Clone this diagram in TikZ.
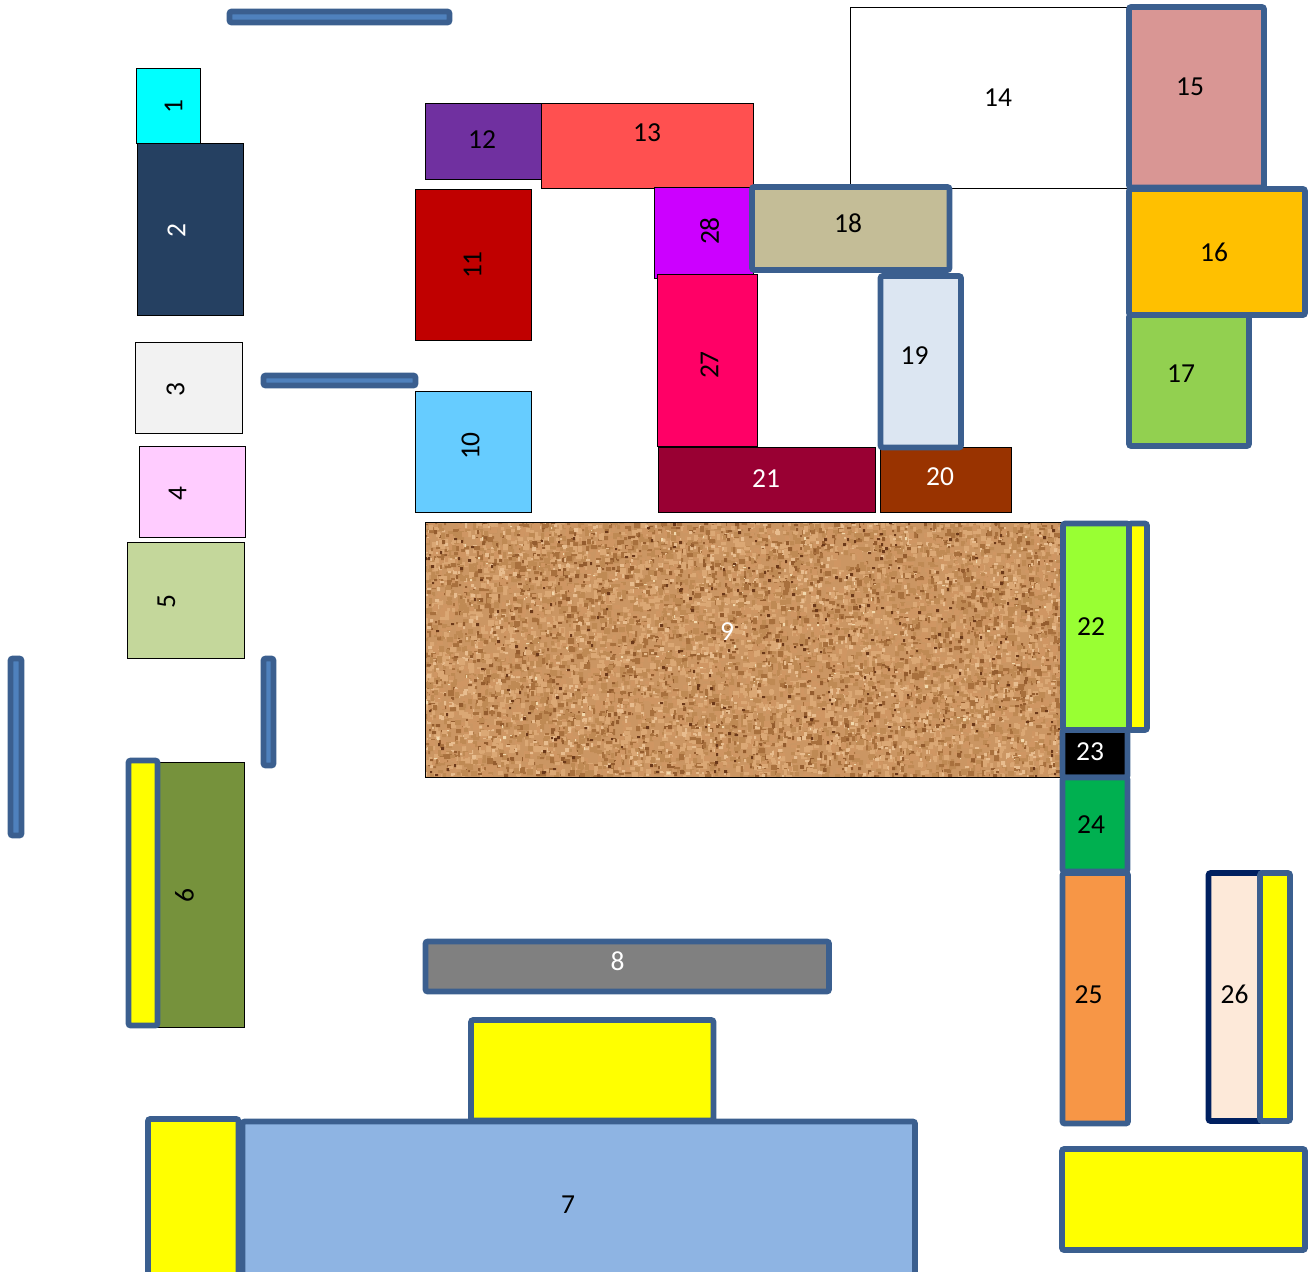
\documentclass[tikz,border=0pt]{standalone}
\usepackage{fontspec}
\setmainfont{Carlito}
\definecolor{edgeblue}{HTML}{3B5F8F}
\definecolor{barblue}{HTML}{4F81BD}
\definecolor{pureyellow}{rgb}{1,1,0}
\definecolor{navyedge}{HTML}{002060}
\definecolor{corkbase}{HTML}{CB9663}
\tikzset{
  plainbox/.style={draw=black,line width=0.75pt,inner sep=0pt,outer sep=0pt},
  heavybox/.style={draw=edgeblue,line width=4.2pt,rounded corners=1.5pt,inner sep=0pt,outer sep=0pt},
  barbox/.style={draw=edgeblue,fill=barblue,line width=4.2pt,rounded corners=1.5pt,inner sep=0pt,outer sep=0pt},
  navybox/.style={draw=navyedge,line width=4.2pt,rounded corners=1.5pt,inner sep=0pt,outer sep=0pt},
  lab/.style={font=\fontsize{20.6pt}{24pt}\selectfont,inner sep=0pt,text=black},
  wlab/.style={lab,text=white},
  rlab/.style={lab,rotate=90},
  rwlab/.style={lab,rotate=90,text=white}
}
% \bx[style]{name}{x0}{y0}{x1}{y1}
\newcommand{\bx}[6][plainbox]{%
  \pgfmathsetmacro{\bxw}{(#5-#3)*0.75}%
  \pgfmathsetmacro{\bxh}{(#6-#4)*0.75}%
  \node[#1,minimum width=\bxw pt,minimum height=\bxh pt] (#2) at ({(#3+#5)/2-0.5},{(#4+#6)/2-0.5}) {};%
}
% compact batches of small rectangles for the cork texture
\makeatletter
\newcount\corkn
\newcommand{\corklayer}[4]{%
  \corkn=#4\relax
  \gdef\corkbuf{}%
  \loop\ifnum\corkn>0
    \pgfmathrandominteger{\crx}{420}{1060}%
    \pgfmathrandominteger{\cry}{518}{775}%
    \pgfmathrandominteger{\crw}{#2}{#3}%
    \pgfmathrandominteger{\crh}{#2}{#3}%
    \xdef\corkbuf{\corkbuf\crx\space\cry\space\crw\space\crh\space re }%
    \advance\corkn by -1
  \repeat
  \pgfsys@invoke{q 0.7472 0 0 -0.7472 0 0 cm #1 rg \corkbuf f Q}%
}
\makeatother
\begin{document}
\begin{tikzpicture}[x=0.75pt,y=-0.75pt]
\useasboundingbox (0,0) rectangle (1308,1271);
\clip (0,0) rectangle (1308,1271);
% blue bars
\bx[barbox]{barA}{230}{12}{450}{23}
\bx[barbox]{barB}{264}{376}{416}{386}
\bx[barbox]{barC}{11}{659}{22}{836}
\bx[barbox]{barD}{264}{659}{274}{766}
% left column
\bx[plainbox,fill={rgb,255:red,0;green,255;blue,255}]{n1}{136.5}{68.5}{200.5}{143.5}
\bx[plainbox,fill={rgb,255:red,37;green,64;blue,97}]{n2}{138}{143.5}{244}{315.5}
\bx[plainbox,fill={rgb,255:red,242;green,242;blue,242}]{n3}{135.5}{342.5}{242.5}{434}
\bx[plainbox,fill={rgb,255:red,255;green,204;blue,255}]{n4}{139.5}{446.5}{245.5}{538}
\bx[plainbox,fill={rgb,255:red,196;green,215;blue,155}]{n5}{127.5}{542.5}{245}{658.5}
\bx[plainbox,fill={rgb,255:red,118;green,146;blue,60}]{n6}{150}{762.5}{245}{1027.5}
\bx[heavybox,fill=pureyellow]{y6}{129}{761}{158}{1026}
% bottom
\bx[heavybox,fill=pureyellow]{y7t}{471.5}{1020.5}{714}{1121}
\bx[heavybox,fill={rgb,255:red,142;green,180;blue,227}]{n7}{243}{1122}{915.5}{1290}
\bx[heavybox,fill=pureyellow]{y7l}{148.5}{1119.5}{239}{1290}
\bx[heavybox,fill={rgb,255:red,128;green,128;blue,128}]{n8}{426}{942}{829.5}{992}
% cork
\begin{scope}
\clip (425,522) rectangle (1061.5,777);
\fill[corkbase] (425,522) rectangle (1062,777);
\pgfmathsetseed{4242}
\foreach \cyc in {1,...,22}{
  \corklayer{0.75 0.54 0.33}{3}{6}{110}
  \corklayer{0.86 0.66 0.46}{3}{6}{110}
  \corklayer{0.66 0.44 0.24}{2}{6}{70}
  \corklayer{0.81 0.59 0.39}{3}{6}{110}
  \corklayer{0.91 0.74 0.56}{2}{4}{60}
  \corklayer{0.58 0.36 0.18}{2}{4}{45}
}
\corklayer{0.42 0.22 0.10}{2}{3}{260}
\corklayer{0.95 0.85 0.68}{1}{3}{120}
\end{scope}
\bx[plainbox]{n9}{425.5}{522.5}{1062}{777.5}
% middle left
\bx[plainbox,fill={rgb,255:red,102;green,204;blue,255}]{n10}{416}{391.5}{532}{513}
\bx[plainbox,fill={rgb,255:red,192;green,0;blue,0}]{n11}{416}{189.5}{532}{341}
\bx[plainbox,fill={rgb,255:red,112;green,48;blue,160}]{n12}{426}{103.5}{542}{179.5}
\bx[plainbox,fill={rgb,255:red,255;green,80;blue,80}]{n13}{542}{103.5}{753.5}{189}
\bx[plainbox,fill=white]{n14}{851}{7.5}{1128.5}{189}
% middle
\bx[plainbox,fill={rgb,255:red,204;green,0;blue,255}]{n28}{654.5}{188}{753.5}{279}
\bx[plainbox,fill={rgb,255:red,255;green,0;blue,102}]{n27}{658}{275}{758}{447}
\bx[plainbox,fill={rgb,255:red,153;green,0;blue,51}]{n21}{658.5}{447.5}{876}{513}
\bx[plainbox,fill={rgb,255:red,153;green,51;blue,0}]{n20}{880.5}{447.5}{1012}{513}
\bx[heavybox,fill={rgb,255:red,196;green,189;blue,151}]{n18}{752.5}{187.5}{950}{270.5}
\bx[heavybox,fill={rgb,255:red,220;green,230;blue,242}]{n19}{881}{276.5}{961.5}{448}
% right upper
\bx[heavybox,fill={rgb,255:red,217;green,150;blue,148}]{n15}{1129.5}{7.5}{1264.5}{188}
\bx[heavybox,fill={rgb,255:red,146;green,208;blue,80}]{n17}{1129.5}{315.5}{1249.5}{446.5}
\bx[heavybox,fill={rgb,255:red,255;green,192;blue,0}]{n16}{1129.5}{189.5}{1305.5}{315.5}
% right lower
\bx[heavybox,fill=pureyellow]{y22}{1129.5}{524}{1147.5}{730.5}
\bx[heavybox,fill={rgb,255:red,153;green,255;blue,51}]{n22}{1063.5}{524}{1129.5}{730.5}
\bx[heavybox,fill=black]{n23}{1063}{730.5}{1128}{778}
\bx[heavybox,fill={rgb,255:red,0;green,176;blue,80}]{n24}{1063}{778}{1128}{872}
\bx[heavybox,fill={rgb,255:red,247;green,150;blue,70}]{n25}{1063}{873.5}{1128.5}{1124}
\bx[navybox,fill={rgb,255:red,253;green,233;blue,217}]{n26}{1209}{873.5}{1262}{1121.5}
\bx[heavybox,fill=pureyellow]{y26}{1260.5}{873.5}{1290.5}{1121.5}
\bx[heavybox,fill=pureyellow]{yBR}{1062.5}{1149.5}{1305.5}{1250.5}
% labels
\node[rlab] (t1) at (173.5,106.5) {1};
\node[rwlab] (t2) at (176.5,230.5) {2};
\node[rlab] (t3) at (175.5,389.5) {3};
\node[rlab] (t4) at (177.5,493.5) {4};
\node[rlab] (t5) at (166.5,601.5) {5};
\node[rlab] (t6) at (184.5,895.5) {6};
\node[lab] (t7) at (568,1204.5) {7};
\node[wlab] (t8) at (617.5,961.5) {8};
\node[wlab] (t9) at (727,631.5) {9};
\node[rlab] (t10) at (470.5,446) {10};
\node[rlab] (t11) at (472.5,265) {11};
\node[lab] (t12) at (482,139.5) {12};
\node[lab] (t13) at (647,132.5) {13};
\node[lab] (t14) at (998,97.5) {14};
\node[lab] (t15) at (1190,86.5) {15};
\node[lab] (t16) at (1214,252.5) {16};
\node[lab] (t17) at (1181,373.5) {17};
\node[lab] (t18) at (848,223.5) {18};
\node[lab] (t19) at (914.5,355.5) {19};
\node[wlab] (t20) at (940,476.5) {20};
\node[wlab] (t21) at (766,478.5) {21};
\node[lab] (t22) at (1091,626.5) {22};
\node[wlab] (t23) at (1090,751.5) {23};
\node[lab] (t24) at (1091,824.5) {24};
\node[lab] (t25) at (1088.5,994.5) {25};
\node[lab] (t26) at (1234.5,994.5) {26};
\node[rlab] (t27) at (709.5,365) {27};
\node[rlab] (t28) at (709.5,231) {28};
\end{tikzpicture}
\end{document}
